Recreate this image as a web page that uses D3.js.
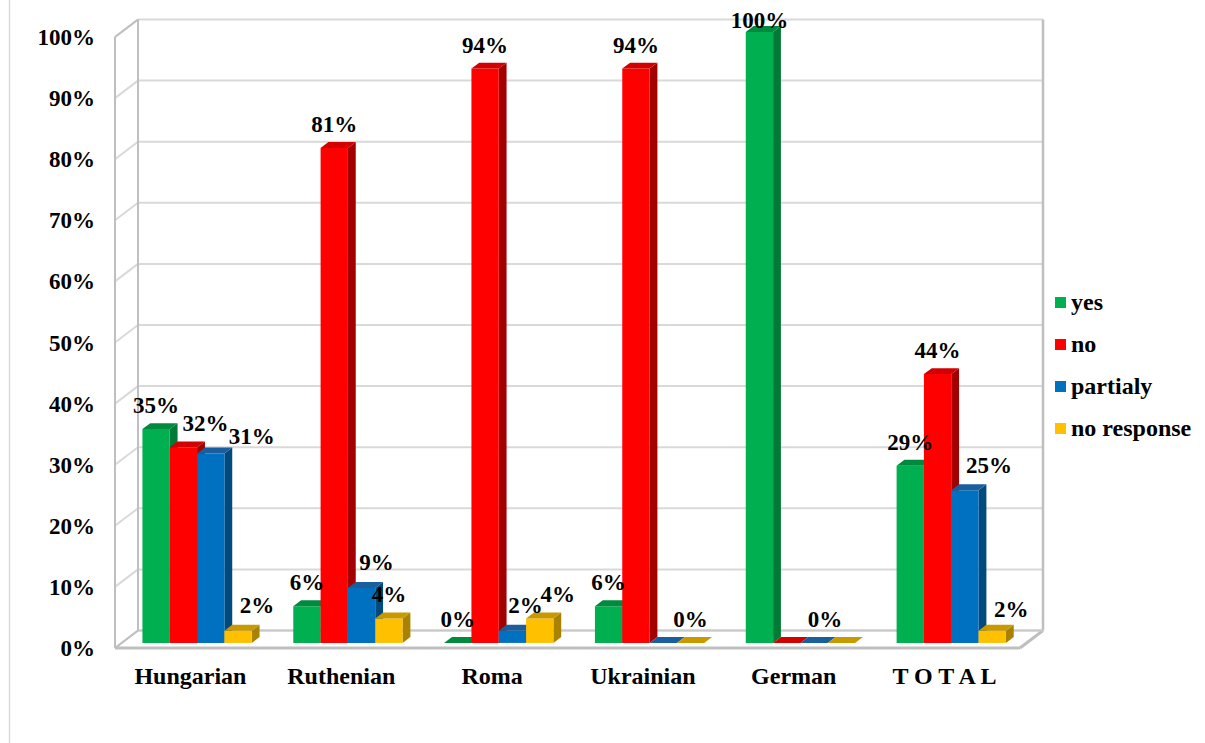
<!DOCTYPE html>
<html>
<head>
<meta charset="utf-8">
<script src="https://cdn.jsdelivr.net/npm/d3@7"></script>
<style>
  html, body { margin: 0; padding: 0; background: #ffffff; }
  svg { display: block; }
  text { font-family: "Liberation Serif", "Times New Roman", serif; font-weight: bold; fill: #000; }
</style>
</head>
<body>
<svg id="chart" width="1205" height="743"></svg>
<script>
// Survey answers by nationality (percent)
const categories = ["Hungarian", "Ruthenian", "Roma", "Ukrainian", "German", "T O T A L"];
const seriesNames = ["yes", "no", "partialy", "no response"];
const yes        = [35, 6, 0, 6, 100, 29];
const no         = [32, 81, 94, 94, 0, 44];
const partialy   = [31, 9, 2, 0, 0, 25];
const noResponse = [2, 4, 4, 0, 0, 2];
const yTicks = [0, 10, 20, 30, 40, 50, 60, 70, 80, 90, 100];

const seriesValues = [yes, no, partialy, noResponse];

// Face colours per series: front, top, side
const palette = {
  "yes":         { front: "#00B050", top: "#008A3E", side: "#007A36" },
  "no":          { front: "#FF0000", top: "#D20000", side: "#A30000" },
  "partialy":    { front: "#0070C0", top: "#1A5E9E", side: "#004A7E" },
  "no response": { front: "#FFC000", top: "#C99A00", side: "#A88200" }
};

// Labels that are not displayed, and hand-placed label nudges [dx, dy]
const hiddenLabels = new Set(["Ukrainian|partialy", "German|no", "German|no response"]);
const labelNudge = {
  "Hungarian|no": [22, 0],
  "Hungarian|partialy": [41, 6],
  "Hungarian|no response": [19, -2],
  "Ruthenian|partialy": [15, -2],
  "Roma|partialy": [13, -2],
  "Roma|no response": [18, 0],
  "German|yes": [0, 12],
  "German|partialy": [11, 0],
  "T O T A L|partialy": [24, -1],
  "T O T A L|no response": [19, 2]
};

const svg = d3.select("#chart");

// Front plane of the 3-D box; depth runs up and to the right
const x0 = 115, x1 = 1020;
const depthDX = 23, depthDY = -17.5;
const y = d3.scaleLinear().domain([0, 100]).range([648, 37]);
const xCat = d3.scaleBand().domain(categories).range([x0, x1]).padding(0);
const xSer = d3.scaleBand().domain(seriesNames).range([0, xCat.bandwidth()]).paddingInner(0).paddingOuter(0.76);

const proj = (x, v, d) => [x + d * depthDX, y(v) + d * depthDY];
const poly = pts => "M" + pts.map(p => p.join(",")).join("L") + "Z";

// Chart area left border
svg.append("line").attr("x1", 9.5).attr("x2", 9.5).attr("y1", 0).attr("y2", 743)
  .attr("stroke", "#D9D9D9").attr("stroke-width", 1.5);

const walls = svg.append("g");
// Back wall gridlines
yTicks.forEach(t => {
  const a = proj(x0, t, 1), b = proj(x1, t, 1);
  walls.append("line").attr("x1", a[0]).attr("y1", a[1]).attr("x2", b[0]).attr("y2", b[1])
    .attr("stroke", "#D9D9D9").attr("stroke-width", 2);
  // Side wall gridlines
  const c = proj(x0, t, 0);
  walls.append("line").attr("x1", c[0]).attr("y1", c[1]).attr("x2", a[0]).attr("y2", a[1])
    .attr("stroke", "#D9D9D9").attr("stroke-width", 2);
});
// Wall edges
const edge = (p, q, w, col) => walls.append("line")
  .attr("x1", p[0]).attr("y1", p[1]).attr("x2", q[0]).attr("y2", q[1])
  .attr("stroke", col || "#BFBFBF").attr("stroke-width", w);
edge(proj(x0, 0, 1), proj(x0, 100, 1), 2);
edge(proj(x1, 0, 1), proj(x1, 100, 1), 2.5);
edge(proj(x0, 0, 0), proj(x0, 100, 0), 2);
edge(proj(x0, 100, 0), proj(x0, 100, 1), 2);
edge(proj(x0, 0, 0), proj(x0, 0, 1), 2);
edge(proj(x0, 0, 0), proj(x1, 0, 0), 3);
edge(proj(x1, 0, 0), proj(x1, 0, 1), 3);
edge(proj(x0, 0, 1), proj(x1, 0, 1), 2, "#C8C8C8");

// Bars, drawn left to right so each front face covers its neighbour's side
const d0 = 0.29, d1 = 0.63;
const bars = svg.append("g");
const labelData = [];
categories.forEach((cat, ci) => {
  seriesNames.forEach((s, si) => {
    const v = seriesValues[si][ci];
    const xl = xCat(cat) + xSer(s), xr = xl + xSer.bandwidth();
    const col = palette[s];
    const g = bars.append("g");
    if (v > 0) {
      g.append("path").attr("d", poly([proj(xr, 0, d0), proj(xr, 0, d1), proj(xr, v, d1), proj(xr, v, d0)]))
        .attr("fill", col.side);
      g.append("path").attr("d", poly([proj(xl, 0, d0), proj(xr, 0, d0), proj(xr, v, d0), proj(xl, v, d0)]))
        .attr("fill", col.front);
    }
    g.append("path").attr("d", poly([proj(xl, v, d0), proj(xr, v, d0), proj(xr, v, d1), proj(xl, v, d1)]))
      .attr("fill", col.top);
    const key = cat + "|" + s;
    if (!hiddenLabels.has(key)) {
      const n = labelNudge[key] || [0, 0];
      const p = proj((xl + xr) / 2, v, d0);
      labelData.push({ x: p[0] + n[0], y: p[1] - 16 + n[1], text: v + "%" });
    }
  });
});

// Value labels
svg.append("g").selectAll("text").data(labelData).join("text")
  .attr("x", d => d.x).attr("y", d => d.y)
  .attr("text-anchor", "middle").attr("font-size", 23)
  .text(d => d.text);

// Value axis labels on the front edge of the side wall
svg.append("g").selectAll("text").data(yTicks).join("text")
  .attr("x", 95).attr("y", t => y(t) + 8)
  .attr("text-anchor", "end").attr("font-size", 23)
  .text(t => t + "%");

// Category labels
svg.append("g").selectAll("text").data(categories).join("text")
  .attr("x", c => xCat(c) + xCat.bandwidth() / 2).attr("y", 684)
  .attr("text-anchor", "middle").attr("font-size", 24)
  .text(c => c);

// Legend
const legend = svg.append("g").selectAll("g").data(seriesNames).join("g")
  .attr("transform", (s, i) => `translate(1055, ${303 + i * 42})`);
legend.append("rect").attr("x", 0).attr("y", -6).attr("width", 11).attr("height", 11)
  .attr("fill", s => palette[s].front);
legend.append("text").attr("x", 16).attr("y", 7).attr("font-size", 24).text(s => s);
</script>
</body>
</html>
